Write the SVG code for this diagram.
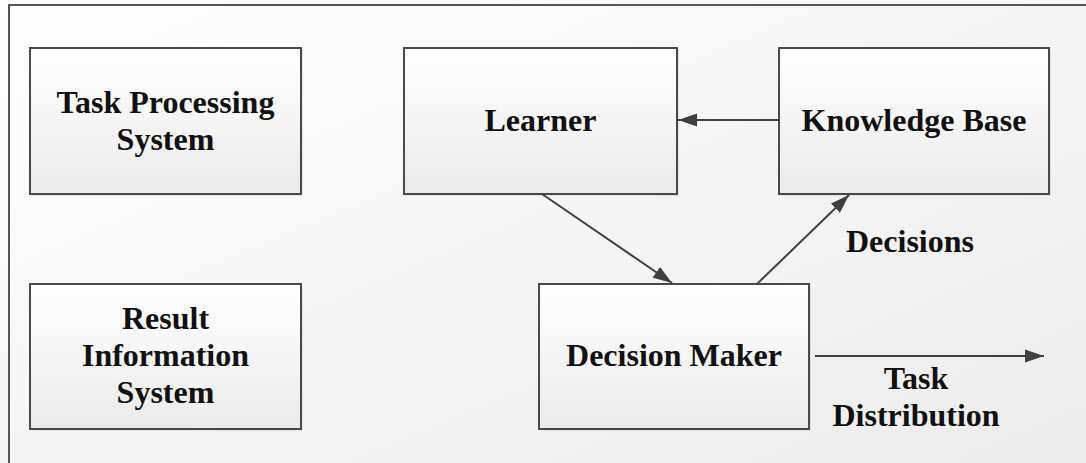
<svg xmlns="http://www.w3.org/2000/svg" width="1086" height="463" viewBox="0 0 1086 463">
  <defs>
    <linearGradient id="bg" x1="0" y1="0" x2="1" y2="1">
      <stop offset="0" stop-color="#ffffff"/>
      <stop offset="1" stop-color="#ececec"/>
    </linearGradient>
    <linearGradient id="box" x1="0" y1="0" x2="0" y2="1">
      <stop offset="0" stop-color="#ffffff"/>
      <stop offset="1" stop-color="#ebebeb"/>
    </linearGradient>
    <marker id="arrow" markerUnits="userSpaceOnUse" markerWidth="20" markerHeight="14" refX="19" refY="7" orient="auto">
      <path d="M0,0.5 L19,7 L0,13.5 Z" fill="#404040"/>
    </marker>
    <style>
      .node rect.shadow { fill: #d0d0d0; opacity: 0.5; }
      .node rect.body { fill: url(#box); stroke: #4a4a4a; stroke-width: 2; }
      text { font-family: "Liberation Serif", "Times New Roman", serif; font-weight: bold; font-size: 32px; fill: #111; text-anchor: middle; }
      .conn line { stroke: #404040; stroke-width: 2; marker-end: url(#arrow); }
    </style>
  </defs>

  <rect x="0" y="0" width="1086" height="463" fill="url(#bg)"/>
  <path d="M9,463 V5 H1086" fill="none" stroke="#555" stroke-width="2"/>

  <g id="task-processing-system" class="node">
    <rect class="shadow" x="32" y="50" width="271" height="146"/>
    <rect class="body" x="30" y="48" width="271" height="146"/>
    <text x="165.5" y="113">Task Processing</text>
    <text x="165.5" y="150">System</text>
  </g>

  <g id="result-information-system" class="node">
    <rect class="shadow" x="32" y="286" width="271" height="145"/>
    <rect class="body" x="30" y="284" width="271" height="145"/>
    <text x="165.5" y="329">Result</text>
    <text x="165.5" y="366">Information</text>
    <text x="165.5" y="403">System</text>
  </g>

  <g id="learner" class="node">
    <rect class="shadow" x="406" y="50" width="273" height="146"/>
    <rect class="body" x="404" y="48" width="273" height="146"/>
    <text x="540.5" y="131">Learner</text>
  </g>

  <g id="knowledge-base" class="node">
    <rect class="shadow" x="781" y="50" width="270" height="146"/>
    <rect class="body" x="779" y="48" width="270" height="146"/>
    <text x="914" y="131">Knowledge Base</text>
  </g>

  <g id="decision-maker" class="node">
    <rect class="shadow" x="541" y="286" width="270" height="145"/>
    <rect class="body" x="539" y="284" width="270" height="145"/>
    <text x="674" y="366">Decision Maker</text>
  </g>

  <g id="connectors" class="conn">
    <line x1="779" y1="120" x2="678" y2="120"/>
    <line x1="542" y1="194" x2="672" y2="283"/>
    <line x1="757" y1="284" x2="849" y2="195"/>
    <line x1="815" y1="356" x2="1044" y2="356"/>
  </g>

  <g id="labels">
    <text x="910" y="252">Decisions</text>
    <text x="916" y="389">Task</text>
    <text x="916" y="426">Distribution</text>
  </g>
</svg>
